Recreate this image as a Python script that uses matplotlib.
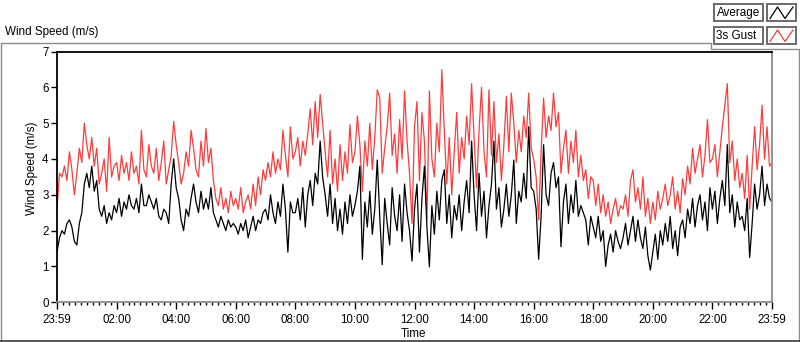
import numpy as np
import matplotlib
matplotlib.use('Agg')
import matplotlib.pyplot as plt
from matplotlib.patches import Rectangle
from matplotlib.ticker import MultipleLocator

plt.rcParams['font.family'] = ['Liberation Sans', 'DejaVu Sans']
plt.rcParams['font.size'] = 8.3

# One reading every 5 minutes, from 23:59 to 23:59 the next day
SAMPLE_MINUTES = 5

# 1-min average wind speed (m/s), one row per hour
AVG_SPEED = [
    1.4, 1.8, 2.0, 1.9, 2.2, 2.3, 2.1, 1.7, 1.6, 2.2, 2.5, 3.3,
    3.6, 3.2, 3.8, 3.1, 3.4, 2.6, 2.4, 2.7, 2.2, 2.5, 2.3, 2.7,
    2.5, 2.9, 2.4, 2.8, 2.6, 3.0, 2.7, 2.6, 2.9, 2.5, 3.3, 2.7,
    2.7, 3.0, 2.8, 2.6, 2.9, 2.4, 2.3, 2.6, 2.5, 2.2, 3.3, 4.0,
    3.2, 2.9, 2.3, 2.0, 2.6, 2.4, 2.9, 3.3, 2.8, 2.5, 3.1, 2.6,
    2.9, 2.6, 3.2, 2.5, 2.3, 2.1, 2.4, 2.2, 2.0, 2.3, 2.1, 2.2,
    2.1, 1.9, 2.2, 2.0, 2.3, 1.8, 2.1, 2.4, 2.0, 2.3, 2.2, 2.5,
    2.6, 2.3, 3.0, 2.5, 2.2, 2.8, 2.4, 3.3, 2.6, 1.4, 2.8, 2.5,
    2.5, 2.9, 2.3, 3.2, 2.1, 3.0, 3.4, 2.7, 3.6, 3.3, 4.5, 3.5,
    3.0, 2.4, 3.3, 2.2, 2.9, 2.0, 2.6, 1.9, 2.8, 2.2, 3.0, 2.4,
    2.7, 3.1, 3.8, 1.2, 2.8, 2.1, 3.1, 1.9, 2.6, 3.97, 2.4, 1.05,
    2.9, 2.2, 1.6, 3.2, 2.4, 2.0, 3.0, 1.7, 3.3, 2.5, 2.0, 1.15,
    2.6, 3.3, 1.4, 2.9, 3.8, 2.1, 0.99, 2.7, 1.9, 3.1, 2.3, 3.4,
    3.7, 2.2, 3.0, 1.8, 2.7, 2.3, 3.0, 2.0, 2.8, 3.4, 2.5, 4.5,
    3.0, 2.0, 3.6, 2.4, 3.1, 1.8, 2.7, 3.3, 4.5, 2.6, 3.2, 2.1,
    2.6, 3.3, 2.4, 3.0, 3.97, 2.2, 3.1, 2.8, 3.6, 2.9, 4.9, 3.2,
    3.1, 2.6, 1.2, 2.4, 4.4, 3.0, 2.7, 3.6, 3.9, 3.2, 3.5, 1.55,
    2.8, 3.3, 2.2, 3.0, 2.5, 3.4, 2.4, 2.7, 2.5, 2.3, 1.6, 2.4,
    2.1, 1.8, 2.4, 1.7, 2.0, 1.0, 1.6, 1.9, 1.4, 2.0, 1.7, 1.5,
    1.8, 2.2, 1.6, 2.0, 2.4, 1.7, 2.3, 1.8, 1.5, 2.1, 1.3, 0.9,
    1.4, 1.9, 1.2, 2.0, 1.6, 2.2, 1.7, 2.4, 1.5, 2.0, 1.3, 2.1,
    2.3, 1.8, 2.6, 2.2, 2.9, 2.1, 2.7, 3.0, 2.3, 2.8, 2.0, 3.2,
    2.6, 3.1, 2.2, 2.9, 3.4, 2.7, 4.4, 2.5, 3.0, 2.1, 2.8, 2.3,
    2.4, 2.0, 2.9, 1.25, 2.2, 3.3, 2.6, 3.0, 3.8, 2.7, 3.3, 2.9,
    2.8,
]

# 3 second gust (m/s), one row per hour
GUST_SPEED = [
    2.6, 3.6, 3.5, 3.8, 3.4, 4.2, 3.7, 3.0, 3.6, 4.3, 3.9, 5.0,
    4.4, 4.0, 4.6, 3.8, 4.3, 3.3, 3.6, 4.0, 3.1, 4.6, 3.5, 3.8,
    3.9, 3.4, 4.1, 3.6, 3.9, 3.4, 4.2, 3.6, 3.8, 3.3, 4.8, 3.7,
    3.5, 4.4, 3.8, 3.6, 4.3, 3.4, 3.9, 4.5, 3.3, 3.7, 4.1, 5.05,
    4.4, 3.9, 3.3, 3.6, 4.2, 3.8, 4.8, 4.3, 3.7, 3.5, 4.5, 3.8,
    4.85, 3.9, 4.3, 3.4, 2.9, 2.7, 3.2, 2.6, 2.9, 2.5, 3.1, 2.7,
    2.9, 2.6, 3.2, 2.5, 2.8, 3.0, 2.6, 3.3, 2.7, 3.5, 3.0, 3.7,
    3.4, 3.9, 3.5, 4.2, 3.6, 4.0, 3.7, 4.8, 4.1, 3.5, 4.9, 4.0,
    4.2, 4.6, 3.8, 4.5, 4.1, 4.7, 5.4, 4.4, 5.6, 4.6, 5.8, 5.0,
    4.2, 3.5, 4.8, 3.3, 4.0, 3.1, 4.4, 3.4, 4.2, 3.6, 4.96, 3.9,
    4.2, 5.2, 4.4, 3.1, 4.5, 3.8, 5.0, 3.7, 4.6, 5.93, 5.7, 3.6,
    4.3, 4.9, 5.84, 4.1, 4.7, 3.6, 5.1, 4.0, 5.9, 4.5, 3.6, 2.2,
    4.9, 5.6, 3.4, 5.3, 4.5, 2.3, 5.9, 4.0, 3.5, 5.0, 4.2, 6.49,
    4.8, 3.3, 4.6, 3.0, 4.2, 5.3, 3.6, 4.6, 4.0, 5.2, 4.4, 6.1,
    4.6, 3.2, 4.8, 6.0, 4.2, 3.5, 5.93, 4.1, 5.6, 3.9, 4.7, 3.4,
    4.4, 5.75, 4.2, 5.84, 5.0, 3.9, 4.8, 4.2, 5.2, 4.6, 5.84, 4.3,
    4.0, 3.5, 2.3, 4.2, 5.7, 4.6, 5.2, 4.8, 5.84, 4.9, 5.3, 3.6,
    4.3, 4.8, 3.6, 4.5, 3.9, 4.8, 3.5, 4.1, 3.4, 3.7, 2.9, 3.5,
    3.4, 2.7, 3.3, 2.5, 3.0, 2.4, 2.8, 2.2, 2.6, 2.9, 2.4, 2.7,
    2.6, 3.0, 2.4, 3.4, 3.7, 2.8, 3.2, 2.6, 3.5, 2.4, 2.9, 2.2,
    2.8, 2.3, 3.1, 2.6, 2.9, 3.3, 2.7, 3.0, 3.5, 2.6, 3.1, 2.5,
    3.45, 3.0, 3.8, 3.3, 4.3, 3.6, 4.0, 4.4, 3.5, 4.1, 5.1, 3.9,
    4.0, 4.4, 3.5, 4.2, 4.9, 5.5, 6.1, 3.9, 4.5, 3.4, 4.0, 3.2,
    3.6, 2.9, 4.1, 2.6, 3.8, 4.9, 3.7, 4.4, 5.5, 4.0, 4.9, 3.8,
    3.9,
]

TICK_HOURS = [0, 2, 4, 6, 8, 10, 12, 14, 16, 18, 20, 22, 24]
TICK_LABELS = ['23:59', '02:00', '04:00', '06:00', '08:00', '10:00', '12:00',
               '14:00', '16:00', '18:00', '20:00', '22:00', '23:59']
Y_TICKS = [0, 1, 2, 3, 4, 5, 6, 7]

SERIES_NAMES = ['Average', '3s Gust']
SERIES_COLORS = ['black', '#ff3b3b']

W, H = 800, 342


def main():
    hours = np.arange(len(AVG_SPEED)) * SAMPLE_MINUTES / 60.0

    fig = plt.figure(figsize=(W / 100, H / 100), dpi=100, facecolor='white')

    # overlay in pixel coords for the panel frame, caption and legend
    ov = fig.add_axes([0, 0, 1, 1])
    ov.set_xlim(0, W)
    ov.set_ylim(H, 0)
    ov.axis('off')

    frame_gray = '#8c8c8c'
    ov.plot([0.5, 0.5, 711, 711, 799, 799], [341, 42.5, 42.5, 48.5, 48.5, 341],
            color=frame_gray, lw=1.0)
    ov.plot([0, W], [341, 341], color='#3a3a3a', lw=1.2)
    ov.text(5, 34.5, 'Wind Speed (m/s)', ha='left', va='baseline', fontsize=8.4)

    # legend boxes at top right
    for i, (name, color) in enumerate(zip(SERIES_NAMES, SERIES_COLORS)):
        y0 = 4 + i * 23
        ov.add_patch(Rectangle((714, y0), 49, 17, facecolor='white',
                               edgecolor='#6a6a6a', lw=1.4))
        ov.add_patch(Rectangle((767, y0), 29, 17, facecolor='white',
                               edgecolor='#6a6a6a', lw=1.4))
        ov.text(716.5, y0 + 8.8, name, ha='left', va='center', fontsize=8.4)
        ov.plot([770, 777.5, 785, 793], [y0 + 14.5, y0 + 3, y0 + 14.5, y0 + 3],
                color=color, lw=0.9)

    # main chart
    ax = fig.add_axes([57 / W, 1 - 302.3 / H, 715 / W, 250.8 / H])
    ax.plot(hours, GUST_SPEED, color=SERIES_COLORS[1], lw=0.9)
    ax.plot(hours, AVG_SPEED, color=SERIES_COLORS[0], lw=0.9)

    ax.set_xlim(0, 24)
    ax.set_ylim(0, 7)
    ax.set_xticks(TICK_HOURS)
    ax.set_xticklabels(TICK_LABELS)
    ax.xaxis.set_minor_locator(MultipleLocator(0.2))
    ax.set_yticks(Y_TICKS)

    ax.tick_params(axis='x', which='major', direction='out', length=5, width=1,
                   pad=3.5, labelsize=8.3)
    ax.tick_params(axis='x', which='minor', direction='out', length=2.5, width=1)
    ax.tick_params(axis='y', direction='out', length=4, width=1, pad=2,
                   labelsize=8.3)

    for side in ['left', 'top']:
        ax.spines[side].set_color('black')
        ax.spines[side].set_linewidth(1.3)
    for side in ['right', 'bottom']:
        ax.spines[side].set_color('#8c8c8c')
        ax.spines[side].set_linewidth(1.3)

    ax.set_xlabel('Time', fontsize=8.4)
    ax.xaxis.label.set_va('center')
    ax.xaxis.set_label_coords(0.499, -0.128)
    ax.set_ylabel('Wind Speed (m/s)', fontsize=8.4)
    ax.yaxis.label.set_va('center')
    ax.yaxis.set_label_coords(-0.035, 0.535)

    fig.savefig('out.png', dpi=100, facecolor='white')
    plt.close(fig)


if __name__ == '__main__':
    main()
